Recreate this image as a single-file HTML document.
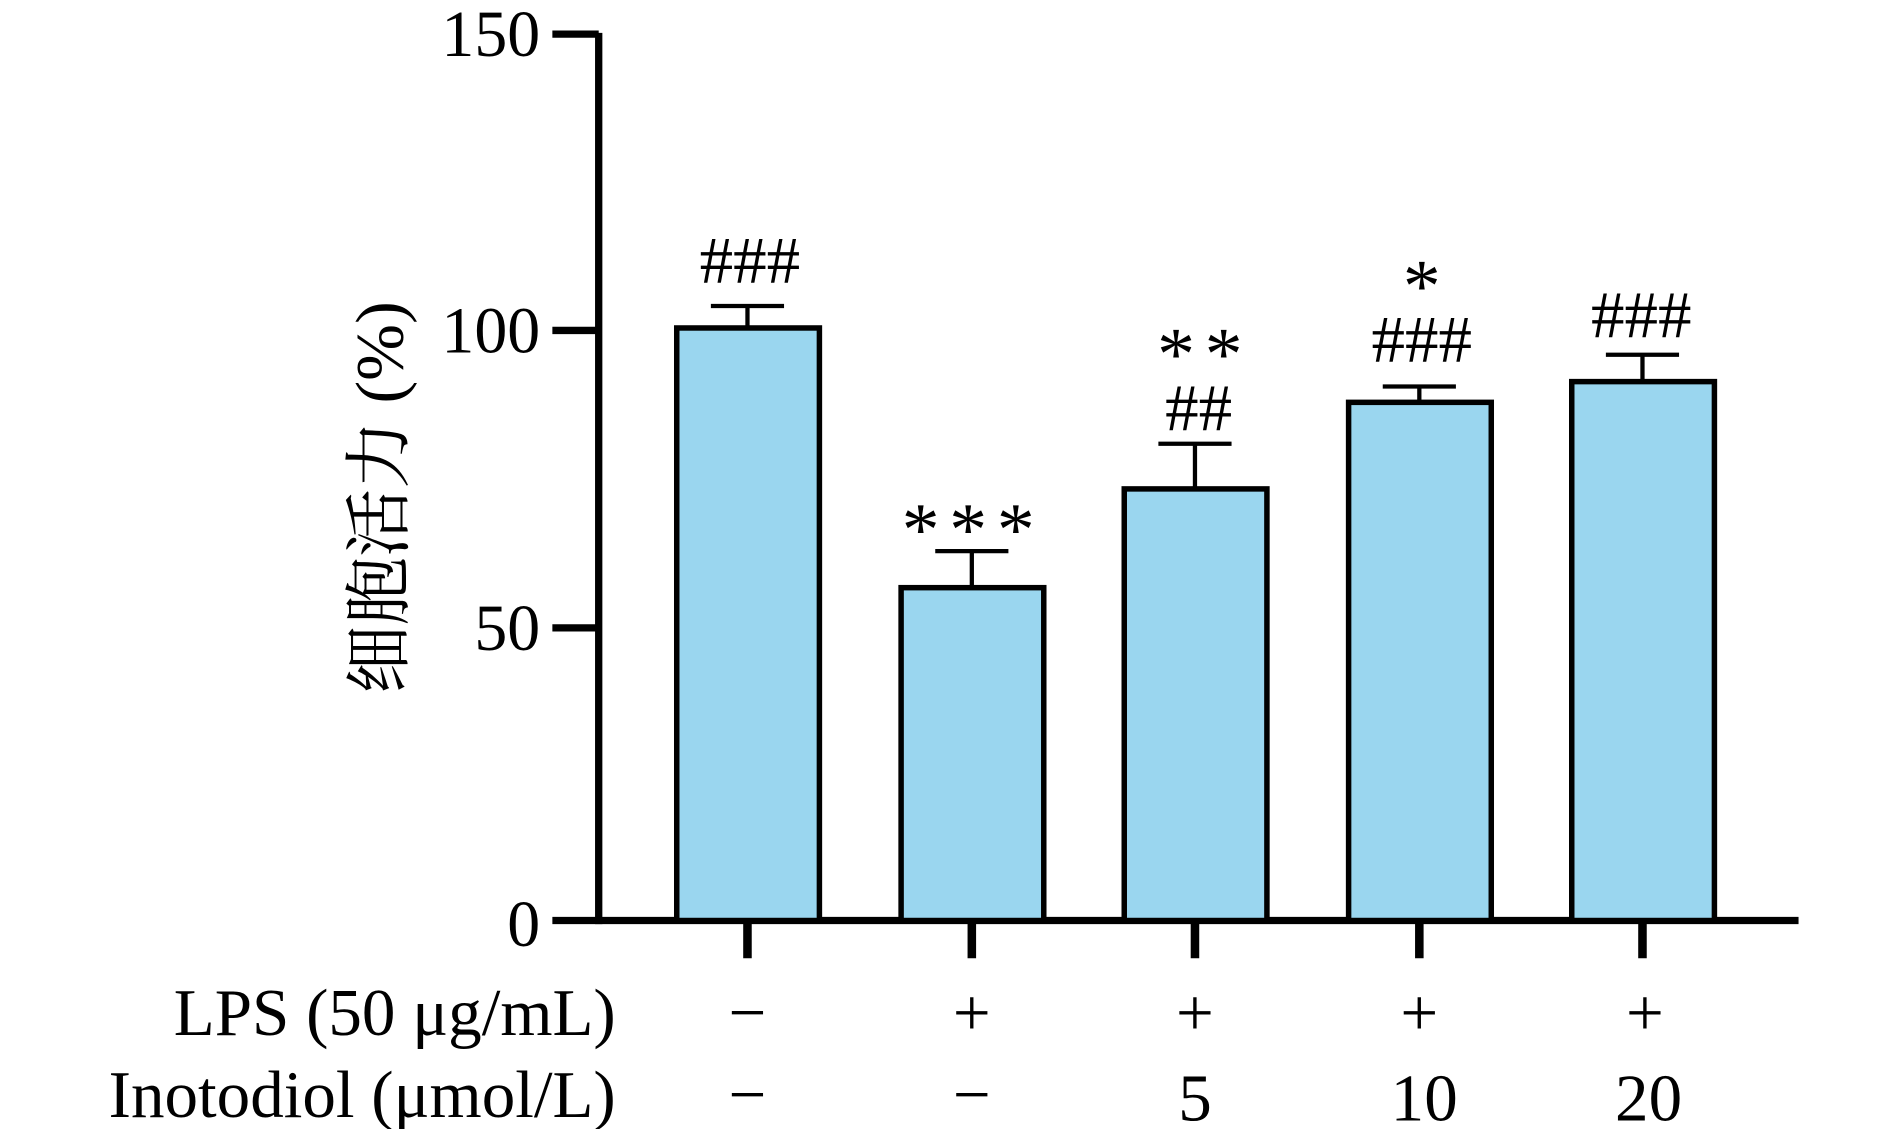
<!DOCTYPE html>
<html><head><meta charset="utf-8"><style>html,body{margin:0;padding:0;background:#fff}svg{display:block}</style></head>
<body>
<svg width="1890" height="1129" viewBox="0 0 1550 926" preserveAspectRatio="none" xmlns="http://www.w3.org/2000/svg" font-family="'Liberation Serif','Noto Serif CJK SC',serif">
<g stroke="#000" stroke-width="6" fill="none">
<line x1="491" y1="27" x2="491" y2="758"/>
<line x1="453" y1="28" x2="491" y2="28"/>
<line x1="453" y1="271" x2="491" y2="271"/>
<line x1="453" y1="515" x2="491" y2="515"/>
<line x1="453" y1="755" x2="1475" y2="755"/>
</g>
<g stroke="#000" stroke-width="7">
<line x1="613" y1="755" x2="613" y2="786"/>
<line x1="797" y1="755" x2="797" y2="786"/>
<line x1="980" y1="755" x2="980" y2="786"/>
<line x1="1164" y1="755" x2="1164" y2="786"/>
<line x1="1347" y1="755" x2="1347" y2="786"/>
</g>
<g stroke="#000" stroke-width="3.5">
<line x1="613" y1="251" x2="613" y2="269"/><line x1="583" y1="251" x2="643" y2="251"/>
<line x1="797" y1="452" x2="797" y2="482"/><line x1="767" y1="452" x2="827" y2="452"/>
<line x1="980" y1="364" x2="980" y2="401"/><line x1="950" y1="364" x2="1010" y2="364"/>
<line x1="1164" y1="317" x2="1164" y2="330"/><line x1="1134" y1="317" x2="1194" y2="317"/>
<line x1="1347" y1="291" x2="1347" y2="313"/><line x1="1317" y1="291" x2="1377" y2="291"/>
</g>
<g fill="#9AD6EF" stroke="#000" stroke-width="4.5">
<rect x="555" y="269" width="117" height="486"/>
<rect x="739" y="482" width="117" height="273"/>
<rect x="922" y="401" width="117" height="354"/>
<rect x="1106" y="330" width="117" height="425"/>
<rect x="1289" y="313" width="117" height="442"/>
</g>
<g font-size="54" text-anchor="end" fill="#000">
<text x="443" y="46">150</text>
<text x="443" y="289">100</text>
<text x="443" y="533">50</text>
<text x="443" y="776">0</text>
</g>
<text transform="translate(330,408) rotate(-90)" font-size="56" text-anchor="middle">细胞活力 (%)</text>
<g font-size="55" text-anchor="middle" fill="#000">
<text x="615" y="232">###</text>
<text x="983" y="353">##</text>
<text x="1166" y="297">###</text>
<text x="1346" y="277">###</text>
</g>
<g font-size="62" text-anchor="middle" fill="#000">
<text x="798" y="455" letter-spacing="8">***</text>
<text x="988" y="311" letter-spacing="8">**</text>
<text x="1166" y="255">*</text>
</g>
<g font-size="55" fill="#000">
<text x="505" y="849" text-anchor="end">LPS (50 μg/mL)</text>
<text x="505" y="916" text-anchor="end">Inotodiol (μmol/L)</text>
<g text-anchor="middle">
<text x="613" y="849">−</text><text x="797" y="849">+</text><text x="980" y="849">+</text><text x="1164" y="849">+</text><text x="1349" y="849">+</text>
<text x="613" y="916">−</text><text x="797" y="916">−</text><text x="980" y="919">5</text><text x="1168" y="919">10</text><text x="1352" y="919">20</text>
</g>
</g>
</svg>
</body></html>
